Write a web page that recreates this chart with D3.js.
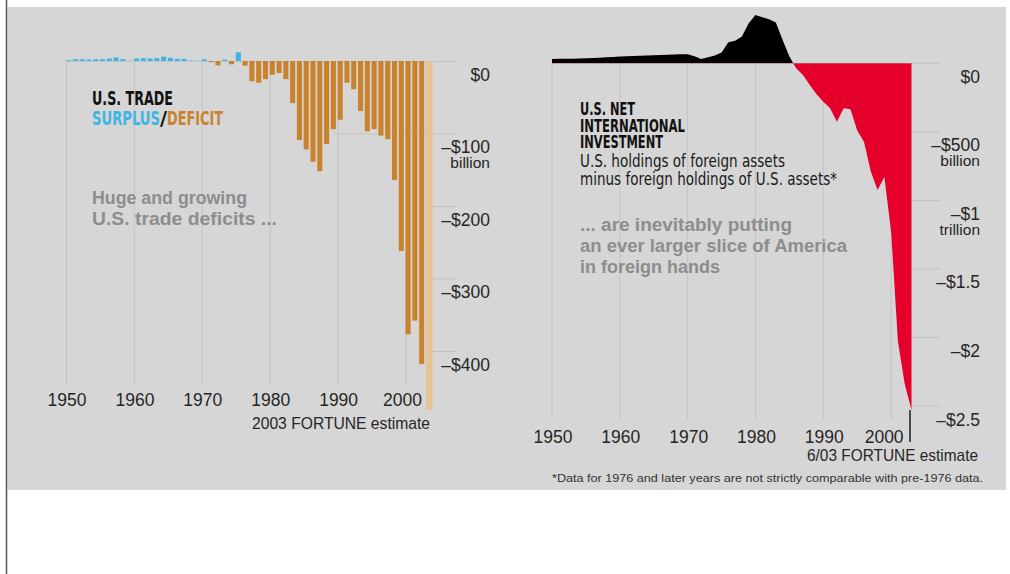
<!DOCTYPE html>
<html><head><meta charset="utf-8">
<script src="https://cdn.jsdelivr.net/npm/d3@7"></script>
<style>html,body{margin:0;padding:0;background:#fff;} svg{display:block;}</style>
</head><body>
<svg id="chart" width="1010" height="574"></svg>
<script>
// ---------- DATA ----------
const tradeYears = d3.range(1950, 2004);
const tradeBalance = [
  1, 2.5, 2.5, 2, 2.5, 2.5, 3.5, 5, 2.5, 0.3,          // 1950-1959
  3.5, 4, 3.5, 4, 6, 4.5, 3, 3, 0.6, 0.3,              // 1960-1969
  2.3, -1.5, -6, 1.9, -4.5, 12, -6.5, -28, -30, -25,   // 1970-1979
  -19, -16.5, -25, -58, -109, -122, -139, -152, -114.5, -94, // 1980-1989
  -81, -30, -39, -69, -97, -94, -103, -108, -164, -262,      // 1990-1999
  -377, -358, -418, -481                                      // 2000-2003 (2003 estimate)
];
const tradeTicks = [0, -100, -200, -300, -400];
const tradeTickLabels = ["$0", "\u2013$100", "\u2013$200", "\u2013$300", "\u2013$400"];
const tradeTickSub = ["", "billion", "", "", ""];
const decadeTicks = [1950, 1960, 1970, 1980, 1990, 2000];

const niipYears = d3.range(1950, 2004);
const niipValues = [
  32, 33, 33, 34, 35, 36, 38, 41, 44, 46,              // 1950-1959
  49, 51, 53, 55, 57, 59, 60, 62, 64, 66,              // 1960-1969
  66, 52, 32, 44, 56, 78, 153, 165, 195, 292,          // 1970-1979
  353, 336, 321, 297, 170, 49, -37, -85, -158, -225,   // 1980-1989
  -280, -328, -426, -328, -335, -490, -575, -790, -925, -830, // 1990-1999
  -1230, -2030, -2340, -2530                            // 2000-2003 (6/03 estimate)
];
const niipTicks = [0, -500, -1000, -1500, -2000, -2500];
const niipTickLabels = ["$0", "\u2013$500", "\u2013$1", "\u2013$1.5", "\u2013$2", "\u2013$2.5"];
const niipTickSub = ["", "billion", "trillion", "", "", ""];

// ---------- STYLE ----------
const BG = "#d6d6d6", GRID = "#c3c3c3", ORANGE = "#c9832f", TAN = "#e4c495",
      BLUE = "#3fb5e5", RED = "#e4002b", TXT = "#262626", NOTE = "#8d8d8d";
const FONT = "'Liberation Sans', Arial, sans-serif";
const NARROW = "'Liberation Sans Narrow', 'DejaVu Sans Condensed', 'Liberation Sans', Arial, sans-serif";

const svg = d3.select("#chart");
svg.append("rect").attr("width", 1010).attr("height", 574).attr("fill", "#fff");
svg.append("rect").attr("x", 7.5).attr("y", 7).attr("width", 998.5).attr("height", 483).attr("fill", BG);
svg.append("line").attr("x1", 6.5).attr("x2", 6.5).attr("y1", 0).attr("y2", 574)
  .attr("stroke", "#555").attr("stroke-width", 1.5);

function txt(g, x, y, s, o = {}) {
  const t = g.append("text").attr("x", x).attr("y", y).text(s)
    .attr("font-family", o.family || FONT)
    .attr("font-size", o.size || 17.5)
    .attr("font-weight", o.weight || "normal")
    .attr("fill", o.fill || TXT)
    .attr("text-anchor", o.anchor || "start");
  if (o.len) t.attr("textLength", o.len).attr("lengthAdjust", o.adjust || "spacingAndGlyphs");
  return t;
}

// ---------- LEFT CHART: trade balance ----------
const L = svg.append("g");
const xL = d3.scaleBand().domain(tradeYears).range([66, 431]).paddingInner(0.25).paddingOuter(0);
const yL = d3.scaleLinear().domain([0, -400]).range([61, 351]);

L.selectAll(".vg").data(decadeTicks).join("line")
  .attr("x1", d => xL(d) + 0.5).attr("x2", d => xL(d) + 0.5)
  .attr("y1", yL(0)).attr("y2", 386).attr("stroke", GRID).attr("stroke-width", 1);
L.selectAll(".hg").data(tradeTicks).join("line")
  .attr("x1", d => d === 0 ? xL(1950) : (d === -100 ? xL(1989) + 3 : xL(2003) + 6))
  .attr("x2", 457)
  .attr("y1", d => yL(d) + 0.5).attr("y2", d => yL(d) + 0.5)
  .attr("stroke", GRID).attr("stroke-width", 1);

const tradeData = tradeYears.map((y, i) => ({ year: y, value: tradeBalance[i] }));
L.selectAll(".bar").data(tradeData).join("rect")
  .attr("x", d => xL(d.year))
  .attr("width", d => d.year === 2003 ? xL.bandwidth() + 1.5 : xL.bandwidth())
  .attr("y", d => d.value >= 0 ? yL(d.value) : yL(0))
  .attr("height", d => Math.abs(yL(d.value) - yL(0)))
  .attr("fill", d => d.value > 0 ? BLUE : (d.year === 2003 ? TAN : ORANGE));

tradeTicks.forEach((t, i) => {
  txt(L, 490, yL(t) + 19.5, tradeTickLabels[i], { anchor: "end" });
  if (tradeTickSub[i]) txt(L, 490, yL(t) + 34, tradeTickSub[i], { anchor: "end", size: 15.5 });
});
decadeTicks.forEach(d => {
  txt(L, xL(d) + 1 + (d === 2000 ? -4 : 0), 406, String(d), { anchor: "middle" });
});
txt(L, 252, 429, "2003 FORTUNE estimate", { size: 17, len: 178, adjust: "spacingAndGlyphs" });

txt(L, 92, 105, "U.S. TRADE", { family: NARROW, weight: "bold", size: 19, fill: "#111", len: 81 });
txt(L, 92, 125, "SURPLUS", { family: NARROW, weight: "bold", size: 19, fill: BLUE, len: 68 });
txt(L, 160, 125, "/", { family: NARROW, weight: "bold", size: 19, fill: "#111", len: 7 });
txt(L, 167, 125, "DEFICIT", { family: NARROW, weight: "bold", size: 19, fill: ORANGE, len: 56 });
txt(L, 92, 204, "Huge and growing", { weight: "bold", size: 17.5, fill: NOTE, len: 155 });
txt(L, 92, 225, "U.S. trade deficits ...", { weight: "bold", size: 17.5, fill: NOTE, len: 185 });

// ---------- RIGHT CHART: net international investment ----------
const R = svg.append("g");
const xR = d3.scaleLinear().domain([1950, 2003]).range([552, 911.5]);
const yR = d3.scaleLinear().domain([0, -2500]).range([63.3, 406]);

R.selectAll(".vg").data(decadeTicks).join("line")
  .attr("x1", d => xR(d)).attr("x2", d => xR(d))
  .attr("y1", yR(0)).attr("y2", 420).attr("stroke", GRID).attr("stroke-width", 1);
R.selectAll(".hg").data(niipTicks).join("line")
  .attr("x1", d => d === 0 ? xR(1950) : xR(2003)).attr("x2", 940)
  .attr("y1", d => yR(d)).attr("y2", d => yR(d))
  .attr("stroke", GRID).attr("stroke-width", 1);

const niipData = niipYears.map((y, i) => ({ year: y, value: niipValues[i] }));
const area = d3.area().x(d => xR(d.year)).y0(yR(0)).y1(d => yR(d.value));
const defs = svg.append("defs");
defs.append("clipPath").attr("id", "above").append("rect")
  .attr("x", 500).attr("y", 0).attr("width", 460).attr("height", yR(0));
defs.append("clipPath").attr("id", "below").append("rect")
  .attr("x", 500).attr("y", yR(0)).attr("width", 460).attr("height", 500);
R.append("path").datum(niipData).attr("d", area).attr("fill", "#000").attr("clip-path", "url(#above)");
R.append("path").datum(niipData).attr("d", area).attr("fill", RED).attr("clip-path", "url(#below)");

R.append("line").attr("x1", xR(2003) - 1.5).attr("x2", xR(2003) - 1.5)
  .attr("y1", yR(niipValues[niipValues.length - 1])).attr("y2", 442)
  .attr("stroke", "#1a1a1a").attr("stroke-width", 1.5);

niipTicks.forEach((t, i) => {
  txt(R, 980, yR(t) + 19.5, niipTickLabels[i], { anchor: "end" });
  if (niipTickSub[i]) txt(R, 980, yR(t) + 34.5, niipTickSub[i], { anchor: "end", size: 15.5 });
});
decadeTicks.forEach(d => {
  txt(R, xR(d) + 1 + (d === 2000 ? -8 : 0), 443, String(d), { anchor: "middle" });
});
txt(R, 807, 461, "6/03 FORTUNE estimate", { size: 17, len: 171, adjust: "spacingAndGlyphs" });
txt(R, 552, 482, "*Data for 1976 and later years are not strictly comparable with pre-1976 data.",
  { size: 10.5, fill: "#333", len: 431, adjust: "spacingAndGlyphs" });

txt(R, 580, 115, "U.S. NET", { family: NARROW, weight: "bold", size: 18, fill: "#111", len: 55 });
txt(R, 580, 131.5, "INTERNATIONAL", { family: NARROW, weight: "bold", size: 18, fill: "#111", len: 105 });
txt(R, 580, 148, "INVESTMENT", { family: NARROW, weight: "bold", size: 18, fill: "#111", len: 83 });
txt(R, 580, 167, "U.S. holdings of foreign assets", { family: NARROW, size: 17, fill: "#1a1a1a", len: 205 });
txt(R, 580, 185, "minus foreign holdings of U.S. assets*", { family: NARROW, size: 17, fill: "#1a1a1a", len: 257 });
txt(R, 580, 231, "... are inevitably putting", { weight: "bold", size: 17.5, fill: NOTE, len: 212 });
txt(R, 580, 252, "an ever larger slice of America", { weight: "bold", size: 17.5, fill: NOTE, len: 267 });
txt(R, 580, 273, "in foreign hands", { weight: "bold", size: 17.5, fill: NOTE, len: 140 });
</script>
</body></html>
